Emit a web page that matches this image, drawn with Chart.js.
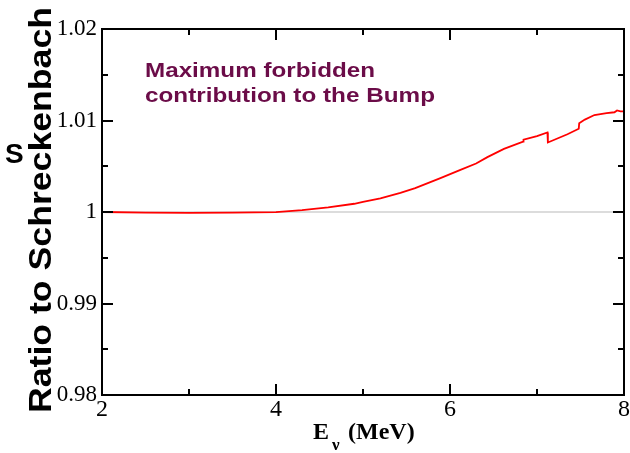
<!DOCTYPE html>
<html>
<head>
<meta charset="utf-8">
<script src="https://cdn.jsdelivr.net/npm/chart.js@4"></script>
<style>
  body { margin: 0; background: #fff; }
  #wrap { width: 630px; height: 453px; position: relative; }
</style>
</head>
<body>
<div id="wrap"><canvas id="ratioChart"></canvas></div>
<script>
// neutrino energy (MeV) and ratio to Schreckenbach
const energy = [2.0, 2.5, 3.0, 3.5, 4.0, 4.3, 4.6, 4.9, 5.0, 5.2, 5.43, 5.6, 5.89, 6.12, 6.3, 6.43, 6.62, 6.84, 6.845, 7.0, 7.12, 7.125, 7.35, 7.48, 7.485, 7.55, 7.66, 7.8, 7.89, 7.92, 7.96, 8.0];
const ratio = [1.0000, 0.99993, 0.99991, 0.99993, 0.99999, 1.0002, 1.0005, 1.0009, 1.0011, 1.0015, 1.0021, 1.0026, 1.0037, 1.0046, 1.0053, 1.0060, 1.0069, 1.0077, 1.0079, 1.0083, 1.0087, 1.0076, 1.0085, 1.0091, 1.0097, 1.0101, 1.0106, 1.0108, 1.0109, 1.0111, 1.0110, 1.0110];
const refLine = [1, 1];
const refEnergy = [2, 8];

const xTicks = [2, 4, 6, 8];
const xMinor = [3, 5, 7];
const yTicks = [0.98, 0.99, 1.00, 1.01, 1.02];
const yMinor = [0.985, 0.995, 1.005, 1.015];

const yTitle = 'Ratio to Schreckenbach';
const note = ['Maximum forbidden', 'contribution to the Bump'];

const serif = '"Liberation Serif", "Times New Roman", serif';
const sans = '"Liberation Sans", Arial, sans-serif';

// frame, inward ticks and the hand-placed texts
const decorations = {
    id: 'decorations',
    afterDraw(chart) {
        const c = chart.ctx;
        const a = chart.chartArea;
        const xs = chart.scales.x, ys = chart.scales.y;
        c.save();
        c.fillStyle = '#000';
        // frame
        c.fillRect(a.left - 1, a.top - 1, a.right - a.left + 2, 2);
        c.fillRect(a.left - 1, a.bottom - 1, a.right - a.left + 2, 2);
        c.fillRect(a.left - 1, a.top - 1, 2, a.bottom - a.top + 2);
        c.fillRect(a.right - 1, a.top - 1, 2, a.bottom - a.top + 2);
        // ticks pointing inward
        xTicks.concat(xMinor).forEach(v => {
            const len = xTicks.includes(v) ? 11 : 6;
            const px = Math.round(xs.getPixelForValue(v));
            c.fillRect(px - 1, a.bottom - len, 2, len);
            c.fillRect(px - 1, a.top, 2, len);
        });
        yTicks.concat(yMinor).forEach(v => {
            const len = yTicks.includes(v) ? 11 : 6;
            const py = Math.round(ys.getPixelForValue(v));
            c.fillRect(a.left, py - 1, len, 2);
            c.fillRect(a.right - len, py - 1, len, 2);
        });

        // y title, rotated
        c.font = 'bold 32px ' + sans;
        c.textBaseline = 'alphabetic';
        c.save();
        c.translate(51, 413);
        c.rotate(-Math.PI / 2);
        const w = c.measureText(yTitle).width;
        c.scale(406 / w, 1);
        c.fillText(yTitle, 0, 0);
        c.restore();

        // stray glyph at the left edge
        c.font = 'bold 28px ' + sans;
        c.fillText('S', 5, 163);

        // x title
        c.font = 'bold 24px ' + serif;
        c.fillText('E', 313, 439);
        c.font = 'bold 17px ' + serif;
        c.fillText('\u03BD', 332, 450);
        c.font = 'bold 24px ' + serif;
        c.fillText('(MeV)', 348, 439);

        // annotation
        c.fillStyle = '#6b0c48';
        c.font = 'bold 21px ' + sans;
        const widths = [230, 290];
        const bases = [77, 102];
        note.forEach((t, i) => {
            c.save();
            c.translate(145, bases[i]);
            c.scale(widths[i] / c.measureText(t).width, 1);
            c.fillText(t, 0, 0);
            c.restore();
        });
        c.restore();
    }
};

const ctx = document.getElementById('ratioChart').getContext('2d');
const ratioChart = new Chart(ctx, {
    type: 'line',
    data: {
        datasets: [{
            label: 'Ratio',
            data: energy.map((e, i) => ({ x: e, y: ratio[i] })),
            borderColor: '#ff0000',
            borderWidth: 1.8,
            pointRadius: 0,
            tension: 0
        }, {
            label: 'Unity',
            data: refEnergy.map((e, i) => ({ x: e, y: refLine[i] })),
            borderColor: '#dcdcdc',
            borderWidth: 2,
            pointRadius: 0
        }]
    },
    options: {
        responsive: true,
        maintainAspectRatio: false,
        animation: false,
        layout: { padding: { top: 29, right: 6, left: 0, bottom: 0 } },
        plugins: { legend: { display: false }, tooltip: { enabled: false } },
        scales: {
            x: {
                type: 'linear',
                min: 2,
                max: 8,
                grid: { display: false, drawTicks: false },
                border: { display: false },
                afterBuildTicks: s => { s.ticks = xTicks.map(v => ({ value: v })); },
                afterFit: s => { s.height = 58; },
                ticks: {
                    color: '#000',
                    padding: 0,
                    maxRotation: 0,
                    font: { family: serif, size: 24 },
                    callback: v => String(v)
                }
            },
            y: {
                min: 0.98,
                max: 1.02,
                grid: { display: false, drawTicks: false },
                border: { display: false },
                afterBuildTicks: s => { s.ticks = yTicks.map(v => ({ value: v })); },
                afterFit: s => { s.width = 102; },
                ticks: {
                    color: '#000',
                    padding: 5,
                    font: { family: serif, size: 23 },
                    callback: v => String(Number(v.toFixed(2)))
                }
            }
        }
    },
    plugins: [decorations]
});
</script>
</body>
</html>
